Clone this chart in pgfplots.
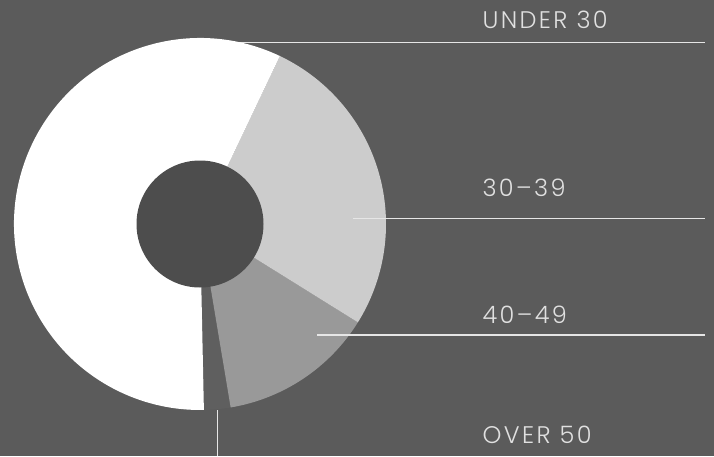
\documentclass[border=0pt]{standalone}
\usepackage{pgfplots}
\pgfplotsset{compat=1.18}
\usepackage{pgfplotstable}
\usepackage{fontspec}
\setmainfont{Poppins}[UprightFont={* Light}, LetterSpace=10]

\definecolor{bg}{HTML}{5B5B5B}
\definecolor{hole}{HTML}{4D4D4D}
\definecolor{cA}{HTML}{FFFFFF}
\definecolor{cB}{HTML}{CCCCCC}
\definecolor{cC}{HTML}{999999}
\definecolor{cD}{HTML}{5F5F5F}
\definecolor{linec}{HTML}{E6E6E6}
\definecolor{labelc}{HTML}{E0E0E0}

% values in percent, counter-clockwise from the bottom
\pgfplotstableread{
label   value
over50  2.3
f40     13.5
f30     26.8
under30 57.4
}\pietable

\pgfplotstablegetelem{0}{value}\of\pietable \let\vA\pgfplotsretval
\pgfplotstablegetelem{1}{value}\of\pietable \let\vB\pgfplotsretval
\pgfplotstablegetelem{2}{value}\of\pietable \let\vC\pgfplotsretval
\pgfplotstablegetelem{3}{value}\of\pietable \let\vD\pgfplotsretval
\pgfmathsetmacro\aO{-88.8}
\pgfmathsetmacro\aA{\aO+3.6*\vA}
\pgfmathsetmacro\aB{\aA+3.6*\vB}
\pgfmathsetmacro\aC{\aB+3.6*\vC}
\pgfmathsetmacro\aD{\aC+3.6*\vD}
\def\R{186}

\begin{document}
\begin{tikzpicture}
\begin{axis}[
  x=1pt, y=1pt,
  xmin=-200, xmax=514, ymin=-232, ymax=224,
  enlargelimits=false,
  hide axis, ticks=none,
  clip=false,
]
\coordinate (bl) at (rel axis cs:0,0);
\coordinate (tr) at (rel axis cs:1,1);
\fill[bg] (axis cs:-200,-232) rectangle (axis cs:514,224);
% leader line behind the pie
\draw[linec, line width=1.2pt] (axis cs:0,181.7) -- (axis cs:505,181.7);
% wedges
\fill[cD] (axis cs:0,0) -- (axis cs:{\R*cos(\aO)},{\R*sin(\aO)}) arc[start angle=\aO, end angle=\aA, radius=\R pt] -- cycle;
\fill[cC] (axis cs:0,0) -- (axis cs:{\R*cos(\aA)},{\R*sin(\aA)}) arc[start angle=\aA, end angle=\aB, radius=\R pt] -- cycle;
\fill[cB] (axis cs:0,0) -- (axis cs:{\R*cos(\aB)},{\R*sin(\aB)}) arc[start angle=\aB, end angle=\aC, radius=\R pt] -- cycle;
\fill[cA] (axis cs:0,0) -- (axis cs:{\R*cos(\aC)},{\R*sin(\aC)}) arc[start angle=\aC, end angle=\aD, radius=\R pt] -- cycle;
\fill[hole] (axis cs:0,0) circle[radius=63.5pt];
% leader lines
\draw[linec, line width=1.2pt] (axis cs:153,5.7) -- (axis cs:505,5.7);
\draw[linec, line width=1.2pt] (axis cs:117,-111) -- (axis cs:505,-111);
\draw[linec, line width=1.2pt] (axis cs:17.7,-186) -- (axis cs:17.7,-232);
% labels
\begin{scope}[every node/.style={anchor=base west, inner sep=0pt, text=labelc, font=\fontsize{24}{24}\selectfont}]
\node at (axis cs:282.3,195.7) {UNDER 30};
\node at (axis cs:282.3,27.3) {30–39};
\node at (axis cs:282.3,-99.3) {40–49};
\node at (axis cs:282.3,-219.3) {OVER 50};
\end{scope}
\end{axis}
\pgfresetboundingbox
\path[use as bounding box] (bl) rectangle (tr);
\end{tikzpicture}
\end{document}
